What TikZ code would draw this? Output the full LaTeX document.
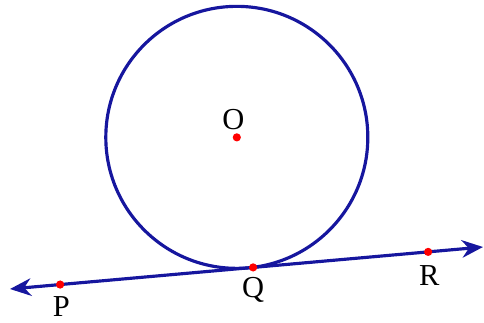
\documentclass[tikz,border=0pt]{standalone}
\usepackage{fontspec}
\setmainfont{Liberation Serif}
\usetikzlibrary{arrows.meta,calc}
\definecolor{circblue}{RGB}{22,22,158}
\tikzset{
  lbl/.style={font=\fontsize{26}{30}\selectfont,inner sep=0pt},
  dot/.style={circle,fill=red,inner sep=0pt,minimum size=7pt},
  bline/.style={circblue,line width=2.7pt}
}
\begin{document}
\begin{tikzpicture}[x=0.03cm,y=0.03cm]
        \useasboundingbox(0,0)rectangle(484,322);
        \def\r{131}
        \coordinate(A)at(10,33);
        \coordinate(B)at(483,75);
        \path(A)--(B)coordinate[pos=0.106](P);
        \path(A)--(B)coordinate[pos=0.504](T);
        \path(A)--(B)coordinate[pos=0.514](Q);
        \path(A)--(B)coordinate[pos=0.884](R);
        \path(A)--(T)([turn]90:\r)coordinate(O);
        \draw[bline](O)circle[radius=\r];
        \draw[bline,{Stealth[length=18pt,width=15pt]}-{Stealth[length=18pt,width=15pt]}](A)--(B);
        \node[dot](dO)at(O){};
        \node[dot](dP)at(P){};
        \node[dot](dQ)at(Q){};
        \node[dot](dR)at(R){};
        \node[lbl](lO)at([xshift=-3pt,yshift=15pt]O){O};
        \node[lbl](lP)at([xshift=1pt,yshift=-18.5pt]P){P};
        \node[lbl](lQ)at([yshift=-19pt]Q){Q};
        \node[lbl](lR)at([xshift=1pt,yshift=-20pt]R){R};
        \end{tikzpicture}
\end{document}
